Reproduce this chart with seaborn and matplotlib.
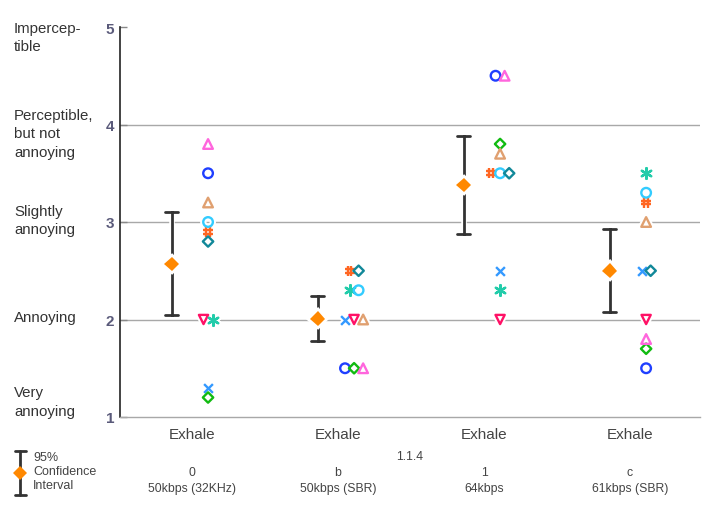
import numpy as np
import pandas as pd
import matplotlib
matplotlib.use("Agg")
import matplotlib.pyplot as plt
from matplotlib.markers import MarkerStyle
from matplotlib.path import Path
import matplotlib.patheffects as pe
import seaborn as sns

# ---------------- data ----------------
codecs = ["Exhale", "Exhale", "Exhale", "Exhale"]
versions = ["0", "b", "1", "c"]
bitrates = ["50kbps (32KHz)", "50kbps (SBR)", "64kbps", "61kbps (SBR)"]
group_title = "1.1.4"

listeners = ["L01", "L02", "L03", "L04", "L05", "L06", "L07", "L08", "L09", "L10"]
# listener order: blue circle, x, hash, tri-down, star, green diamond,
# light-blue circle, tan triangle, teal diamond, pink triangle
scores_g0 = [3.5, 1.3, 2.9, 2.0, 2.0, 1.2, 3.0, 3.2, 2.8, 3.8]
scores_g1 = [1.5, 2.0, 2.5, 2.0, 2.3, 1.5, 2.3, 2.0, 2.5, 1.5]
scores_g2 = [4.5, 2.5, 3.5, 2.0, 2.3, 3.8, 3.5, 3.7, 3.5, 4.5]
scores_g3 = [1.5, 2.5, 3.2, 2.0, 3.5, 1.7, 3.3, 3.0, 2.5, 1.8]
all_scores = [scores_g0, scores_g1, scores_g2, scores_g3]

ytick_vals = [1, 2, 3, 4, 5]
ytick_names = ["Very\nannoying", "Annoying", "Slightly\nannoying",
               "Perceptible,\nbut not\nannoying", "Impercep-\ntible"]

# ---------------- styles ----------------
hash_path = Path(
    [(-0.35, -1), (-0.35, 1), (0.35, -1), (0.35, 1),
     (-1, -0.35), (1, -0.35), (-1, 0.35), (1, 0.35)],
    [Path.MOVETO, Path.LINETO] * 4)
listener_colors = ["#1f3fff", "#3399ff", "#ff6622", "#ff1166", "#22ccaa",
                   "#11bb11", "#33ccff", "#e0a070", "#118899", "#ff66dd"]
listener_markers = [MarkerStyle("o", fillstyle="none"), "x",
                    MarkerStyle(hash_path, fillstyle="none"),
                    MarkerStyle("v", fillstyle="none"), (6, 2, 0),
                    MarkerStyle("D", fillstyle="none"),
                    MarkerStyle("o", fillstyle="none"),
                    MarkerStyle("^", fillstyle="none"),
                    MarkerStyle("D", fillstyle="none"),
                    MarkerStyle("^", fillstyle="none")]
listener_sizes = [48, 40, 52, 44, 60, 28, 48, 48, 28, 48]

mean_offset = -0.14
point_offset = 0.11
dodge_step = 0.062

# ---------------- dataframe ----------------
rows = []
for gi, sc in enumerate(all_scores):
    for li, (lname, s) in enumerate(zip(listeners, sc)):
        rows.append(dict(group=gi, listener=lname, lidx=li, score=s))
df = pd.DataFrame(rows)

# dodge tied scores within a group (ordered by listener index)
df["xpos"] = 0.0
for (g, s), sub in df.groupby(["group", "score"]):
    sub = sub.sort_values("lidx")
    n = len(sub)
    for k, idx in enumerate(sub.index):
        df.loc[idx, "xpos"] = g + point_offset + (k - (n - 1) / 2) * dodge_step
df["mpos"] = df["group"] + mean_offset

# ---------------- figure ----------------
sns.set_theme(style="white")
plt.rcParams["font.family"] = ["Liberation Sans", "DejaVu Sans"]

fig = plt.figure(figsize=(7.2, 5.1), dpi=100)
ax = fig.add_axes([120 / 720, 1 - 418 / 510, 580 / 720, 390 / 510])

for y in [2, 3, 4]:
    ax.axhline(y, color="#a8a8a8", lw=1, zorder=0)

halo = [pe.withStroke(linewidth=4, foreground="white")]

def ci95(v):
    v = np.asarray(v)
    m = v.mean()
    h = 1.96 * v.std(ddof=0) / np.sqrt(len(v))
    return (m - h, m + h)

n_before = len(ax.lines)
sns.pointplot(data=df, x="mpos", y="score", native_scale=True,
              estimator="mean", errorbar=ci95, capsize=0.09,
              linestyle="none", markers="D", color="#ff8800",
              markersize=7.5, markeredgewidth=0, zorder=4,
              err_kws={"color": "#333333", "linewidth": 2, "zorder": 3},
              ax=ax)
for ln in ax.lines[n_before:]:
    ln.set_path_effects(halo)

# white halo layer under all listener marks, then the coloured marks
for li, lname in enumerate(listeners):
    sub = df[df["listener"] == lname]
    sns.scatterplot(data=sub, x="xpos", y="score", marker=listener_markers[li],
                    color="white", s=listener_sizes[li],
                    linewidth=4.5, zorder=4.5, ax=ax, legend=False)
for li, lname in enumerate(listeners):
    sub = df[df["listener"] == lname]
    sns.scatterplot(data=sub, x="xpos", y="score", marker=listener_markers[li],
                    color=listener_colors[li], s=listener_sizes[li],
                    linewidth=1.7, zorder=5, ax=ax, legend=False)

# axes cosmetics
ax.set_xlim(-0.493, 3.479)
ax.set_ylim(1, 5)
ax.set_xlabel("")
ax.set_ylabel("")
for side in ["top", "right"]:
    ax.spines[side].set_visible(False)
ax.spines["left"].set_color("#222222")
ax.spines["left"].set_linewidth(1.2)
ax.spines["bottom"].set_color("#a8a8a8")
ax.spines["bottom"].set_linewidth(1)

ax.set_yticks(ytick_vals)
ax.set_yticklabels([str(v) for v in ytick_vals], fontsize=11,
                   fontweight="bold", color="#5a5a7a")
ax.tick_params(axis="y", direction="in", length=5, width=1, color="#888888",
               pad=4, left=True)

ax.set_xticks(range(len(codecs)))
ax.set_xticklabels(codecs, fontsize=11, color="#444444")
ax.tick_params(axis="x", length=0, pad=7)

# descriptive y labels
label_centers = [1.16, 2.03, 3.02, 3.91, 4.90]
for yc, name in zip(label_centers, ytick_names):
    ax.text(14 / 720, 1 - (418 - (yc - 1) * 97.5) / 510, name,
            transform=fig.transFigure, ha="left", va="center",
            fontsize=10.8, color="#333333", linespacing=1.4)

# group title and per-condition labels
fig.text(410 / 720, 1 - 457 / 510, group_title, ha="center", va="center",
         fontsize=8.8, color="#444444")
for gi, (v, b) in enumerate(zip(versions, bitrates)):
    xf = ax.transData.transform((gi, 0))[0] / fig.bbox.width
    fig.text(xf, 1 - 473 / 510, v, ha="center", va="center", fontsize=8.8,
             color="#444444")
    fig.text(xf, 1 - 489 / 510, b, ha="center", va="center", fontsize=8.8,
             color="#444444")

# legend for confidence interval
lax = fig.add_axes([10 / 720, 1 - 500 / 510, 20 / 720, 52 / 510])
lax.set_xlim(-1, 1)
lax.set_ylim(0, 1)
lax.axis("off")
lax.plot([0, 0], [0.08, 0.92], color="#333333", lw=2)
lax.plot([-0.55, 0.55], [0.92, 0.92], color="#333333", lw=2)
lax.plot([-0.55, 0.55], [0.08, 0.08], color="#333333", lw=2)
lax.plot([0], [0.5], marker="D", color="#ff8800", markersize=7, mew=0)
fig.text(33 / 720, 1 - 472 / 510, "95%\nConfidence\nInterval", ha="left",
         va="center", fontsize=9, color="#444444", linespacing=1.2)

fig.savefig("out.png", dpi=100)
